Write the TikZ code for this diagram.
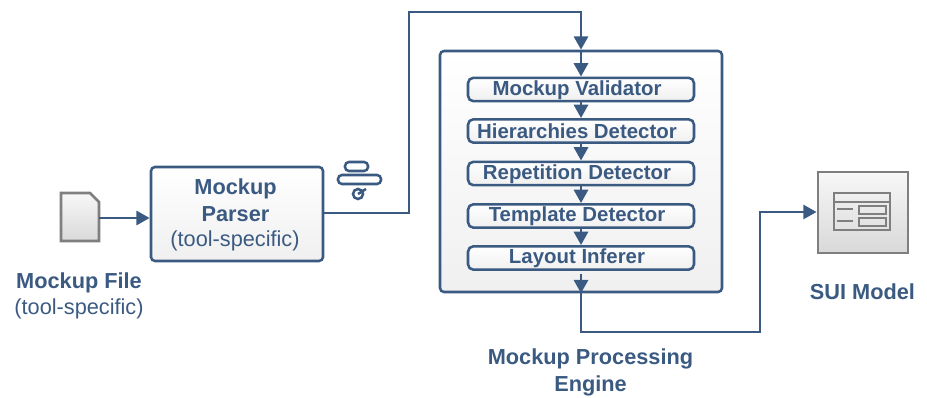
\documentclass[tikz,border=0pt]{standalone}
\usepackage{fontspec}
\setmainfont{Liberation Sans}
\usetikzlibrary{arrows.meta,positioning,calc}
\definecolor{navy}{HTML}{3B5A82}
\definecolor{grayline}{HTML}{7F7F7F}
\tikzset{
  x=0.75pt,y=-0.75pt,
  conn/.style={draw=navy,line width=2.2pt,-{Triangle[length=10pt,width=10.5pt]}},
  stage/.style={draw=navy,line width=1.9pt,rounded corners=3pt,top color=white,bottom color=black!6},
  bold/.style={text=navy,font=\fontsize{16.3}{18}\selectfont\bfseries},
  boldin/.style={text=navy,font=\fontsize{15.3}{18}\selectfont\bfseries},
  reg/.style={text=navy,font=\fontsize{16.3}{18}\selectfont},
  grayicon/.style={draw=grayline,line width=2.1pt,top color=black!3,bottom color=black!15},
  glyph/.style={draw=grayline,line width=1.9pt},
  token/.style={draw=navy,line width=1.9pt},
}
\begin{document}
\begin{tikzpicture}
\useasboundingbox (0,0) rectangle (927,398);
% file icon
\path[grayicon] (61,193) -- (90,193) -- (99,202) -- (99,241) -- (61,241) -- cycle;
\coordinate (fileE) at (99,218);
% parser
\node[stage,minimum width=129pt,minimum height=70.5pt,inner sep=0pt] (parser) at (237,214) {};
\node[bold] (parserA) at (235.5,189) {Mockup};
\node[bold] (parserB) at (235.5,214) {Parser};
\node[reg] (parserC) at (235,241) {(tool-specific)};
\draw[conn] (fileE) -- (fileE -| parser.west);
% engine
\node[stage,minimum width=211.5pt,minimum height=180.75pt,inner sep=0pt] (engine) at (581,171.5) {};
% inner
\foreach \n/\y/\t in {v/89.5/Mockup Validator,h/131/Hierarchies Detector,r/173.5/Repetition Detector,t/216/Template Detector,l/258/Layout Inferer}{
  \node[stage,rounded corners=4pt,minimum width=169.5pt,minimum height=17.5pt,inner sep=0pt] (\n) at (581,\y) {};
  \node[boldin] (\n t) at (577,\y+0.5) {\t};
}
\coordinate (top1) at (409,12);
\coordinate (top2) at (581,12);
\coordinate (bend) at (409,213);
\draw[conn] (parser.east |- bend) -- (bend) -- (top1) -- (top2) -- (engine.north);
\draw[conn] (engine.north) -- (v.north);
\draw[conn] (v) -- (h);
\draw[conn] (h) -- (r);
\draw[conn] (r) -- (t);
\draw[conn] (t) -- (l);
% output
\node[grayicon,minimum width=67.5pt,minimum height=60.75pt,inner sep=0pt] (sui) at (863,212.5) {};
\draw[conn,shorten <=2pt] (l.south) -- (engine.south);
\coordinate (o1) at (581,332);
\coordinate (o2) at (760,332);
\coordinate (o3) at (760,212);
\draw[conn] (engine.south) -- (o1) -- (o2) -- (o3) -- (sui.west |- o3);
% sui glyph
\draw[glyph] (834,193) rectangle (890,230);
\draw[glyph] (834,202) -- (890,202);
\draw[glyph] (859,206) rectangle (886,214);
\draw[glyph] (859,218) rectangle (886,226);
\draw[glyph] (837,209) -- (853,209);
\draw[glyph] (837,221) -- (853,221);
% token icon
\draw[token,fill=white,rounded corners=3pt] (345,162) rectangle (368,171);
\draw[token,fill=white,rounded corners=3pt] (338,175) rectangle (381,184);
\draw[token] (358,194) circle (5);
\draw[token] (358,194) -- (366,189);
% labels
\node[bold] (l1) at (79,283) {Mockup File};
\node[reg] (l2) at (79,309) {(tool-specific)};
\node[bold] (l3) at (590.5,359) {Mockup Processing};
\node[bold] (l4) at (590.5,386) {Engine};
\node[bold] (l5) at (862.5,292) {SUI Model};
\end{tikzpicture}
\end{document}
